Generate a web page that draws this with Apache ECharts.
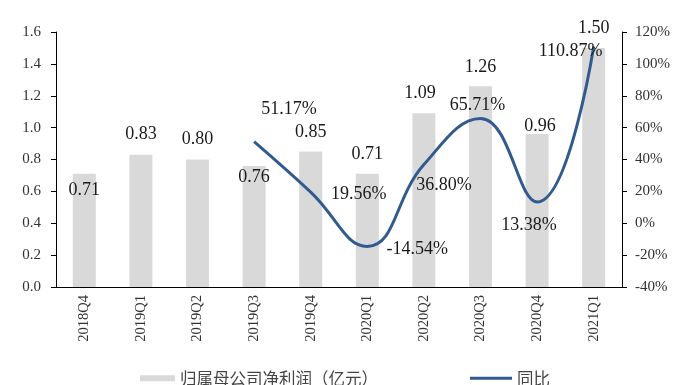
<!DOCTYPE html>
<html>
<head>
<meta charset="utf-8">
<script src="https://cdn.jsdelivr.net/npm/echarts@6/dist/echarts.min.js"></script>
<style>
  html, body { margin: 0; padding: 0; background: #fff; }
  #chart { width: 686px; height: 385px; }
</style>
</head>
<body>
<div id="chart"></div>
<script>
// Quarterly net profit attributable to parent (100M CNY) and its YoY growth
const quarters = ['2018Q4', '2019Q1', '2019Q2', '2019Q3', '2019Q4', '2020Q1', '2020Q2', '2020Q3', '2020Q4', '2021Q1'];
const netProfit = [0.71, 0.83, 0.80, 0.76, 0.85, 0.71, 1.09, 1.26, 0.96, 1.50];
const yoyGrowth = [null, null, null, 51.17, 19.56, -14.54, 36.80, 65.71, 13.38, 110.87];
const leftTicks = { min: 0, max: 1.6, step: 0.2 };
const rightTicks = { min: -40, max: 120, step: 20 };

// label nudges (px) so the value labels sit clear of bars and the curve
const barLabelShift = [[0, 30], [0, -6], [0, -6], [0, 25], [0, -5], [0, -6], [-4, -6], [0, -5], [3, 6], [0, -6]];
const lineLabelShift = [null, null, null, [35, -32], [48, 2], [50, 3], [20, 21], [-3, -13], [-8, 23], [-23, 5]];

const serif = '"Liberation Serif", "Times New Roman", serif';
const cjk = '"Noto Sans CJK SC", sans-serif';
const barName = '归属母公司净利润（亿元）';
const lineName = '同比';

const barData = netProfit.map((v, i) => ({
  value: v,
  label: { offset: barLabelShift[i] }
}));
const lineData = yoyGrowth.map((v, i) => v === null ? '-' : ({
  value: v,
  label: { offset: lineLabelShift[i] }
}));

const chart = echarts.init(document.getElementById('chart'), null, { renderer: 'canvas' });
chart.setOption({
  animation: false,
  backgroundColor: '#ffffff',
  grid: { left: 56, right: 64, top: 32, bottom: 98 },
  legend: [
    {
      data: [{ name: barName, icon: 'rect' }],
      left: 135, top: 365,
      itemWidth: 35, itemHeight: 6, itemGap: 8,
      textStyle: { fontFamily: cjk, fontSize: 16.5, color: '#444' }
    },
    {
      data: [{ name: lineName, icon: 'rect' }],
      left: 465, top: 365,
      itemWidth: 42, itemHeight: 3, itemGap: 6,
      textStyle: { fontFamily: cjk, fontSize: 16.5, color: '#444' }
    }
  ],
  xAxis: {
    type: 'category',
    data: quarters,
    boundaryGap: true,
    axisLine: { lineStyle: { color: '#000', width: 1 } },
    axisTick: { alignWithLabel: true, length: 5, lineStyle: { color: '#000' } },
    axisLabel: { rotate: 90, margin: 8, fontFamily: serif, fontSize: 14.5, color: '#333' }
  },
  yAxis: [
    {
      type: 'value',
      min: leftTicks.min, max: leftTicks.max, interval: leftTicks.step,
      axisLine: { show: true, lineStyle: { color: '#000' } },
      axisTick: { show: true, length: 5, lineStyle: { color: '#000' } },
      splitLine: { show: false },
      axisLabel: { margin: 15, fontFamily: serif, fontSize: 15, color: '#333', formatter: v => v.toFixed(1) }
    },
    {
      type: 'value',
      min: rightTicks.min, max: rightTicks.max, interval: rightTicks.step,
      axisLine: { show: true, lineStyle: { color: '#000' } },
      axisTick: { show: true, length: 5, lineStyle: { color: '#000' } },
      splitLine: { show: false },
      axisLabel: { margin: 13, fontFamily: serif, fontSize: 15, color: '#333', formatter: '{value}%' }
    }
  ],
  series: [
    {
      name: barName,
      type: 'bar',
      data: barData,
      barWidth: 23,
      itemStyle: { color: '#d9d9d9' },
      label: {
        show: true, position: 'top', distance: 5,
        fontFamily: serif, fontSize: 18, color: '#1a1a1a',
        formatter: p => p.value.toFixed(2)
      },
      z: 2
    },
    {
      name: lineName,
      type: 'line',
      yAxisIndex: 1,
      data: lineData,
      smooth: 0.45,
      symbol: 'circle',
      symbolSize: 0.1,
      showSymbol: true,
      connectNulls: false,
      lineStyle: { color: '#315b8f', width: 3 },
      itemStyle: { color: '#315b8f' },
      label: {
        show: true, position: 'inside',
        fontFamily: serif, fontSize: 18, color: '#1a1a1a',
        formatter: p => p.value.toFixed(2) + '%'
      },
      z: 3
    }
  ]
});
</script>
</body>
</html>
